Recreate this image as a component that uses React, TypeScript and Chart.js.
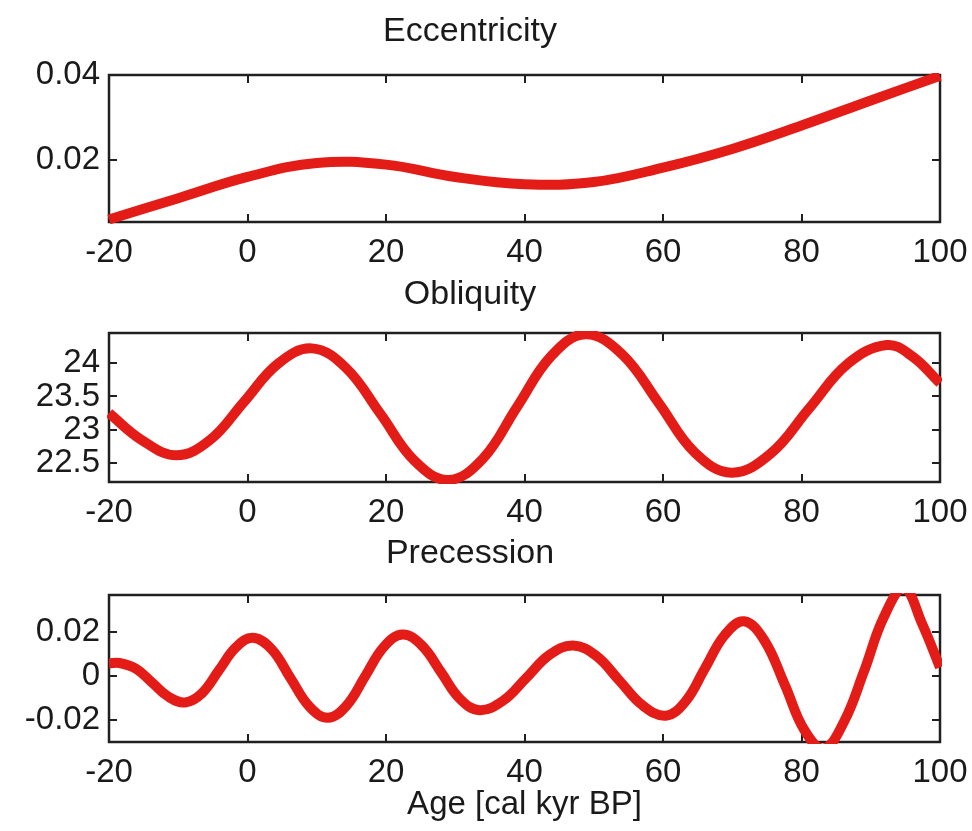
import React, { useEffect, useRef } from 'react';
import { Chart, registerables } from 'chart.js';

Chart.register(...registerables);

// ---------- data ----------
const ageTicks = [-20, 0, 20, 40, 60, 80, 100];

const eccAge = [-20, -10, 0, 10, 20, 30, 40, 50, 60, 70, 80, 90, 100];
const eccVal = [0.006, 0.011, 0.016, 0.0193, 0.0189, 0.016, 0.0143, 0.0148, 0.0182, 0.0226, 0.0281, 0.034, 0.0398];
const eccTicks = [0.02, 0.04];

const oblAge = [-20, -15.3, -10.3, -5.4, -0.5, 4.4, 9.3, 14.2, 19.2, 24.1, 29, 34, 38.9, 43.9, 48.8, 54.1, 59.4, 64.6, 69.9, 75.5, 81.1, 86.7, 92.3, 96, 100];
const oblVal = [23.25, 22.85, 22.62, 22.85, 23.42, 23.99, 24.22, 23.93, 23.24, 22.54, 22.25, 22.57, 23.34, 24.11, 24.43, 24.13, 23.4, 22.66, 22.36, 22.64, 23.32, 23.99, 24.27, 24.1, 23.7];
const oblTicks = [22.5, 23, 23.5, 24];

const precAge = [-20, -18.5, -16.1, -13.75, -11.4, -9, -6.55, -4.1, -1.65, 0.8, 3.5, 6.2, 8.9, 11.6, 14.3, 17, 19.7, 22.4, 25.2, 27.95, 30.7, 33.5, 36.9, 40.25, 43.6, 47, 50.35, 53.7, 57.05, 60.4, 63.2, 66.05, 68.9, 71.7, 74.6, 77.6, 80.4, 83.2, 86.1, 89, 91.9, 94.8, 97.4, 100];
const precVal = [0.0058, 0.006, 0.0034, -0.003, -0.0094, -0.012, -0.0077, 0.0028, 0.0132, 0.0175, 0.0122, -0.0008, -0.0137, -0.019, -0.0134, 0, 0.0134, 0.019, 0.0139, 0.0018, -0.0104, -0.0155, -0.0112, -0.0008, 0.0097, 0.014, 0.0093, -0.002, -0.0133, -0.018, -0.0117, 0.0035, 0.0187, 0.025, 0.0165, -0.004, -0.0245, -0.033, -0.021, 0.002, 0.027, 0.04, 0.024, 0.004];
const precTicks = [-0.02, 0, 0.02];

// ---------- styling ----------
const FONT = '"Liberation Sans", Arial, Helvetica, sans-serif';
const TEXT = '#1a1a1a';
const RED = 'rgb(228,28,24)';
const W = 972;

const framePlugin = {
  id: 'matlabFrame',
  beforeDatasetsDraw(chart: any) {
    const { ctx, chartArea: a, scales } = chart;
    const L = 8;
    ctx.save();
    ctx.strokeStyle = '#202020';
    ctx.lineWidth = 2;
    ctx.beginPath();
    scales.x.ticks.forEach((t: any) => {
      const px = Math.round(scales.x.getPixelForValue(t.value));
      ctx.moveTo(px, a.bottom);
      ctx.lineTo(px, a.bottom - L);
      ctx.moveTo(px, a.top);
      ctx.lineTo(px, a.top + L);
    });
    scales.y.ticks.forEach((t: any) => {
      const py = Math.round(scales.y.getPixelForValue(t.value));
      ctx.moveTo(a.left, py);
      ctx.lineTo(a.left + L, py);
      ctx.moveTo(a.right, py);
      ctx.lineTo(a.right - L, py);
    });
    ctx.stroke();
    ctx.lineWidth = 2.5;
    ctx.strokeRect(a.left, a.top, a.right - a.left, a.bottom - a.top);
    ctx.restore();
  },
};

interface PanelProps {
  top: number;
  height: number;
  title: string;
  titlePad: { top: number; bottom: number };
  ages: number[];
  values: number[];
  yMin: number;
  yMax: number;
  yTicks: number[];
  xAxisHeight: number;
  xTitle?: string;
}

function Panel(p: PanelProps) {
  const ref = useRef<HTMLCanvasElement>(null);
  useEffect(() => {
    if (!ref.current) return;
    const data = p.ages.map((a, i) => ({ x: a, y: p.values[i] }));
    const chart = new Chart(ref.current, {
      type: 'line',
      data: {
        datasets: [
          {
            data,
            borderColor: RED,
            borderWidth: 10,
            pointRadius: 0,
            fill: false,
            tension: 0.4,
            clip: 2,
          } as any,
        ],
      },
      plugins: [framePlugin],
      options: {
        responsive: false,
        animation: false,
        devicePixelRatio: 1,
        layout: { padding: { left: 0, right: 32, top: 0, bottom: 0 } },
        plugins: {
          legend: { display: false },
          tooltip: { enabled: false },
          title: {
            display: true,
            text: p.title,
            color: TEXT,
            font: { family: FONT, size: 34, weight: 'normal' },
            padding: p.titlePad,
          },
        },
        scales: {
          x: {
            type: 'linear',
            min: -20,
            max: 100,
            afterBuildTicks: (s: any) => {
              s.ticks = ageTicks.map((v) => ({ value: v }));
            },
            afterFit: (s: any) => {
              s.height = p.xAxisHeight;
              s.paddingLeft = 0;
              s.paddingRight = 0;
            },
            grid: { display: false, drawTicks: false },
            border: { display: false },
            ticks: {
              autoSkip: false,
              maxRotation: 0,
              padding: 11.5,
              color: TEXT,
              font: { family: FONT, size: 33 },
              callback: (v: any) => String(v),
            },
            title: p.xTitle
              ? {
                  display: true,
                  text: p.xTitle,
                  color: TEXT,
                  font: { family: FONT, size: 33 },
                  padding: { top: 0, bottom: 6.7 },
                }
              : { display: false },
          },
          y: {
            type: 'linear',
            min: p.yMin,
            max: p.yMax,
            afterBuildTicks: (s: any) => {
              s.ticks = p.yTicks.map((v) => ({ value: v }));
            },
            afterFit: (s: any) => {
              s.width = 109;
              s.paddingTop = 0;
              s.paddingBottom = 0;
            },
            grid: { display: false, drawTicks: false },
            border: { display: false },
            ticks: {
              autoSkip: false,
              padding: 9,
              color: TEXT,
              font: { family: FONT, size: 33 },
              callback: (v: any) => String(v),
            },
          },
        },
      } as any,
    });
    return () => chart.destroy();
  }, []);
  return (
    <canvas
      ref={ref}
      width={W}
      height={p.height}
      style={{ position: 'absolute', left: 0, top: p.top, width: W, height: p.height, display: 'block' }}
    />
  );
}

export default function App() {
  return (
    <div style={{ position: 'absolute', left: 0, top: 0, width: W, height: 831, background: '#fff', overflow: 'hidden' }}>
      <Panel
        top={0}
        height={270}
        title="Eccentricity"
        titlePad={{ top: 11.4, bottom: 22.8 }}
        ages={eccAge}
        values={eccVal}
        yMin={0.0054}
        yMax={0.04}
        yTicks={eccTicks}
        xAxisHeight={48}
      />
      <Panel
        top={270}
        height={260}
        title="Obliquity"
        titlePad={{ top: 4.6, bottom: 17.6 }}
        ages={oblAge}
        values={oblVal}
        yMin={22.22}
        yMax={24.45}
        yTicks={oblTicks}
        xAxisHeight={48}
      />
      <Panel
        top={530}
        height={301}
        title="Precession"
        titlePad={{ top: 3.6, bottom: 20.6 }}
        ages={precAge}
        values={precVal}
        yMin={-0.030}
        yMax={0.037}
        yTicks={precTicks}
        xAxisHeight={89}
        xTitle="Age [cal kyr BP]"
      />
    </div>
  );
}
